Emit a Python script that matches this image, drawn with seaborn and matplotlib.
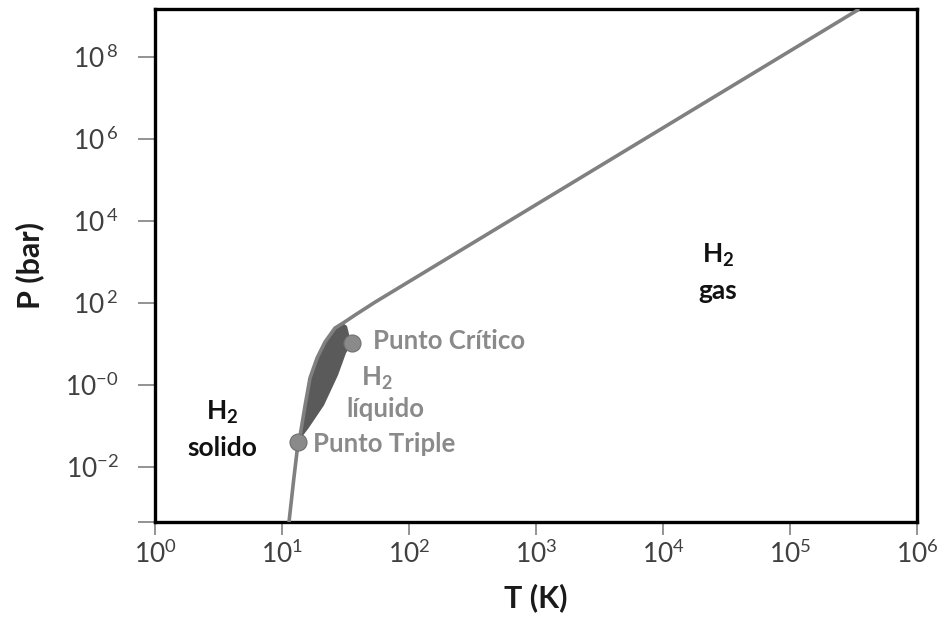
import numpy as np
import pandas as pd
import matplotlib
matplotlib.use("Agg")
import matplotlib.pyplot as plt
import seaborn as sns

# Phase boundary of H2
line_T = [11.35, 12.4, 13.4, 13.9, 15.2, 16.6, 18.9, 21.8, 26.1, 30.2, 37.6, 54.0, 342800]
line_P = [4.6e-4, 5.4e-3, 0.041, 0.060, 0.32, 1.48, 4.6, 11.2, 24.5, 32.4, 51.0, 105.0, 1.41e9]

# edge of the shaded liquid region: triple point -> critical point -> back to the melting line
vap_T = [13.4, 16.2, 21.4, 27.6, 31.9, 35.6, 34.3, 32.5, 30.2]
vap_P = [0.041, 0.089, 0.32, 1.74, 6.0, 10.5, 14.1, 27.5, 32.4]

points = ["Punto Crítico", "Punto Triple"]
point_T = [35.6, 13.4]
point_P = [10.5, 0.041]

x_ticks = [1e0, 1e1, 1e2, 1e3, 1e4, 1e5, 1e6]
x_labels = [r"$\mathrm{10^{%d}}$" % i for i in range(7)]
y_ticks = [10 ** -3.34, 1e-2, 1e0, 1e2, 1e4, 1e6, 1e8]
y_labels = ["", r"$\mathrm{10^{-2}}$", r"$\mathrm{10^{-0}}$", r"$\mathrm{10^{\,2}}$",
            r"$\mathrm{10^{\,4}}$", r"$\mathrm{10^{\,6}}$", r"$\mathrm{10^{\,8}}$"]


def main():
    sns.set_theme(style="white")
    plt.rcParams["font.family"] = ["Lato", "DejaVu Sans"]
    plt.rcParams["mathtext.fontset"] = "custom"
    plt.rcParams["mathtext.rm"] = "Lato"
    plt.rcParams["mathtext.bf"] = "Lato:bold"

    curve = pd.DataFrame({"T": line_T, "P": line_P})
    pts = pd.DataFrame({"name": points, "T": point_T, "P": point_P})

    fig = plt.figure(figsize=(9.47, 6.26), dpi=100)
    ax = fig.add_axes([0.1637, 0.1661, 0.8046, 0.8195])
    ax.set_xscale("log")
    ax.set_yscale("log")

    # shaded liquid region
    start = line_T.index(vap_T[0])
    stop = line_T.index(vap_T[-1]) + 1
    poly_T = line_T[start:stop] + vap_T[::-1]
    poly_P = line_P[start:stop] + vap_P[::-1]
    ax.fill(poly_T, poly_P, color="#5a5a5a", lw=0, zorder=2)

    sns.lineplot(data=curve, x="T", y="P", sort=False, color="#808080",
                 lw=2.6, ax=ax, zorder=3)
    sns.scatterplot(data=pts, x="T", y="P", color="#8a8a8a", s=150,
                    edgecolor="#707070", linewidth=0.8, ax=ax, zorder=4)

    ax.set_xlim(1, 1e6)
    ax.set_ylim(10 ** -3.34, 10 ** 9.17)
    ax.set_xticks(x_ticks)
    ax.set_xticklabels(x_labels)
    ax.set_yticks(y_ticks)
    ax.set_yticklabels(y_labels)
    ax.minorticks_off()
    ax.tick_params(axis="x", direction="out", length=9, width=1.2, color="#808080",
                   labelsize=19, labelcolor="#404040", pad=4, bottom=True)
    ax.tick_params(axis="y", direction="out", length=12, width=1.2, color="#808080",
                   labelsize=19, labelcolor="#404040", pad=14, left=True)
    for s in ax.spines.values():
        s.set_color("black")
        s.set_linewidth(2.4)

    ax.set_xlabel("T (K)", fontsize=22, fontweight="bold", color="#1a1a1a")
    ax.set_ylabel("P (bar)", fontsize=22, fontweight="bold", color="#1a1a1a")
    ax.xaxis.set_label_coords(0.5, -0.12)
    ax.yaxis.set_label_coords(-0.145, 0.5)

    # region labels
    black = "#111111"
    grey = "#8a8a8a"
    kw = dict(fontsize=19, fontweight="bold", ha="center", va="center")
    ax.text(10 ** 4.433, 10 ** 3.17, r"H$_\mathbf{2}$", color=black, **kw)
    ax.text(10 ** 4.433, 10 ** 2.3, "gas", color=black, **kw)
    ax.text(10 ** 0.53, 10 ** -0.66, r"H$_\mathbf{2}$", color=black, **kw)
    ax.text(10 ** 0.53, 10 ** -1.54, "solido", color=black, **kw)
    kw["fontsize"] = 18.5
    ax.text(10 ** 1.75, 10 ** 0.17, r"H$_\mathbf{2}$", color=grey, **kw)
    ax.text(10 ** 1.81, 10 ** -0.59, "líquido", color=grey, **kw)
    ax.text(10 ** 1.717, 10 ** 1.07, points[0], color=grey, fontsize=18.5,
            fontweight="bold", ha="left", va="center")
    ax.text(10 ** 1.244, 10 ** -1.44, points[1], color=grey, fontsize=18.5,
            fontweight="bold", ha="left", va="center")

    fig.savefig("out.png", dpi=100)


if __name__ == "__main__":
    main()
